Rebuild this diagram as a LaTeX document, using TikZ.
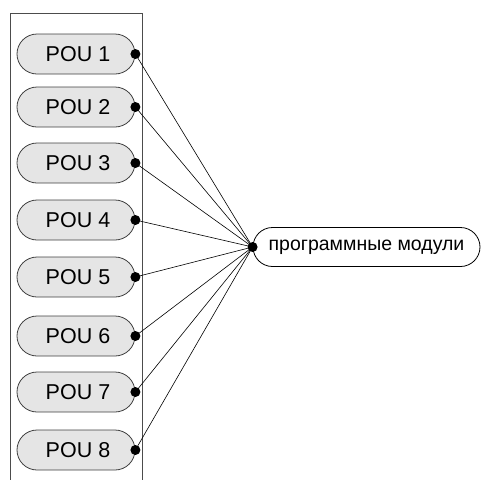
\documentclass[tikz,border=0pt]{standalone}
\usepackage{fontspec}
\setmainfont{Liberation Sans}
\usetikzlibrary{shapes.misc,positioning}

\begin{document}
\begin{tikzpicture}[x=1pt,y=-1pt,
  pou/.style={rounded rectangle, draw=black!75, fill=black!10, line width=0.8pt,
    minimum width=118pt, minimum height=40pt, inner sep=0pt,
    font=\fontsize{21.5}{25}\selectfont},
  modul/.style={rounded rectangle, draw=black, fill=white, line width=0.8pt,
    minimum width=227pt, minimum height=39pt, inner sep=0pt,
    font=\fontsize{19.5}{23}\selectfont},
  dot/.style={fill=black}]
\useasboundingbox (0,0) rectangle (483,480);
% frame around the POUs, open at the bottom
\draw[black!70, line width=0.8pt] (10,480) |- (142,13) -- (142,480);
% the POUs
\foreach \i/\y in {1/54,2/107,3/163,4/220,5/277,6/336,7/392,8/450}
  \node[pou] (p\i) at (76,\y) {\hspace*{4pt}POU \i};
\node[modul] (mod) at (366.5,247) {программные модули};
% connectors
\foreach \i in {1,...,8}
  \draw[line width=0.6pt] (p\i.east) -- (mod.west);
\foreach \i in {1,...,8}
  \fill[dot] (p\i.east) circle (5);
\fill[dot] (mod.west) circle (5);
\end{tikzpicture}
\end{document}
